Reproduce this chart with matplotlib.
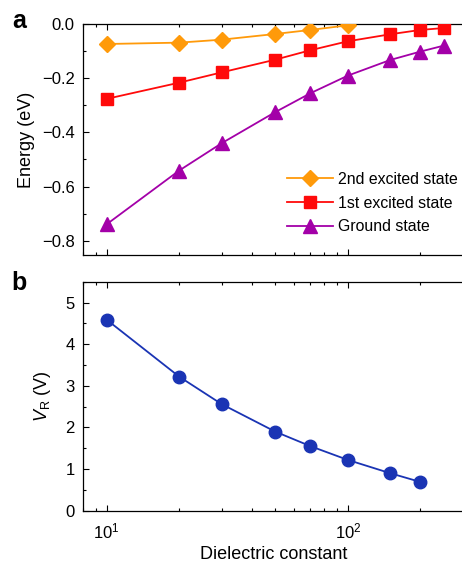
import matplotlib
matplotlib.use("Agg")
import matplotlib.pyplot as plt
from matplotlib.ticker import MultipleLocator, LogLocator, NullFormatter

plt.rcParams["font.family"] = ["Liberation Sans", "DejaVu Sans"]
plt.rcParams["mathtext.fontset"] = "custom"
plt.rcParams["mathtext.rm"] = "Liberation Sans"
plt.rcParams["mathtext.it"] = "Liberation Sans:italic"
plt.rcParams["font.size"] = 12

# ---------------------------------------------------------------------------
# Data
# ---------------------------------------------------------------------------
eps_2nd = [10, 20, 30, 50, 70, 100]
e_2nd = [-0.073, -0.068, -0.057, -0.036, -0.021, -0.004]

eps_1st = [10, 20, 30, 50, 70, 100, 150, 200, 250]
e_1st = [-0.276, -0.216, -0.178, -0.131, -0.096, -0.063, -0.037, -0.021, -0.014]

eps_gs = [10, 20, 30, 50, 70, 100, 150, 200, 250]
e_gs = [-0.740, -0.541, -0.440, -0.325, -0.255, -0.190, -0.132, -0.101, -0.079]

eps_vr = [10, 20, 30, 50, 70, 100, 150, 200]
v_r = [4.59, 3.22, 2.56, 1.90, 1.55, 1.22, 0.90, 0.69]

energy_ticks = [0.0, -0.2, -0.4, -0.6, -0.8]
energy_labels = ["0.0", "\u22120.2", "\u22120.4", "\u22120.6", "\u22120.8"]

ORANGE = "#ff9a0a"
RED = "#ff0a0a"
PURPLE = "#a300a8"
BLUE = "#1a34b4"


def _style_axes(ax):
    ax.set_xscale("log")
    ax.set_xlim(8, 304)
    ax.xaxis.set_minor_locator(LogLocator(base=10, subs=range(2, 10)))
    ax.xaxis.set_minor_formatter(NullFormatter())
    ax.tick_params(which="both", direction="in", top=True, right=False,
                   labelsize=12)
    ax.tick_params(which="major", length=4.5, width=0.8)
    ax.tick_params(which="minor", length=2.5, width=0.8)
    ax.tick_params(axis="y", pad=6)
    ax.tick_params(axis="x", pad=8)
    for s in ax.spines.values():
        s.set_linewidth(0.9)


fig = plt.figure(figsize=(4.62, 5.64), dpi=100)

# ---------------------------------------------------------------------------
# Panel a
# ---------------------------------------------------------------------------
ax1 = fig.add_axes([0.180, 0.548, 0.825, 0.409])
ax1.plot(eps_2nd, e_2nd, color=ORANGE, marker="D", ms=8.5, lw=1.3,
         label="2nd excited state", zorder=3)
ax1.plot(eps_1st, e_1st, color=RED, marker="s", ms=8, lw=1.3,
         label="1st excited state", zorder=3)
ax1.plot(eps_gs, e_gs, color=PURPLE, marker="^", ms=9.5, lw=1.3,
         label="Ground state", zorder=3)
_style_axes(ax1)
ax1.set_ylim(-0.853, 0.0)
ax1.yaxis.set_minor_locator(MultipleLocator(0.1))
ax1.set_yticks(energy_ticks)
ax1.set_yticklabels(energy_labels)
ax1.set_xticklabels([])
ax1.set_ylabel("Energy (eV)", fontsize=13, labelpad=5)
ax1.legend(loc="upper left", bbox_to_anchor=(0.621, 0.695),
           bbox_transform=fig.transFigure, frameon=False, fontsize=11.4,
           handlelength=2.9, handletextpad=0.35, labelspacing=0.55,
           borderpad=0, borderaxespad=0)
fig.text(0.041, 0.963, "a", fontsize=18, fontweight="bold",
         ha="center", va="center")

# ---------------------------------------------------------------------------
# Panel b
# ---------------------------------------------------------------------------
ax2 = fig.add_axes([0.180, 0.0945, 0.825, 0.406])
ax2.plot(eps_vr, v_r, color=BLUE, marker="o", ms=9, lw=1.3, zorder=3)
_style_axes(ax2)
ax2.set_ylim(0, 5.5)
ax2.yaxis.set_major_locator(MultipleLocator(1))
ax2.yaxis.set_minor_locator(MultipleLocator(0.5))
ax2.set_ylabel(r"$V_{\mathrm{R}}$ (V)", fontsize=13, labelpad=9)
ax2.set_xlabel("Dielectric constant", fontsize=13, labelpad=3)
fig.text(0.041, 0.498, "b", fontsize=18, fontweight="bold",
         ha="center", va="center")

fig.savefig("out.png", dpi=100)
